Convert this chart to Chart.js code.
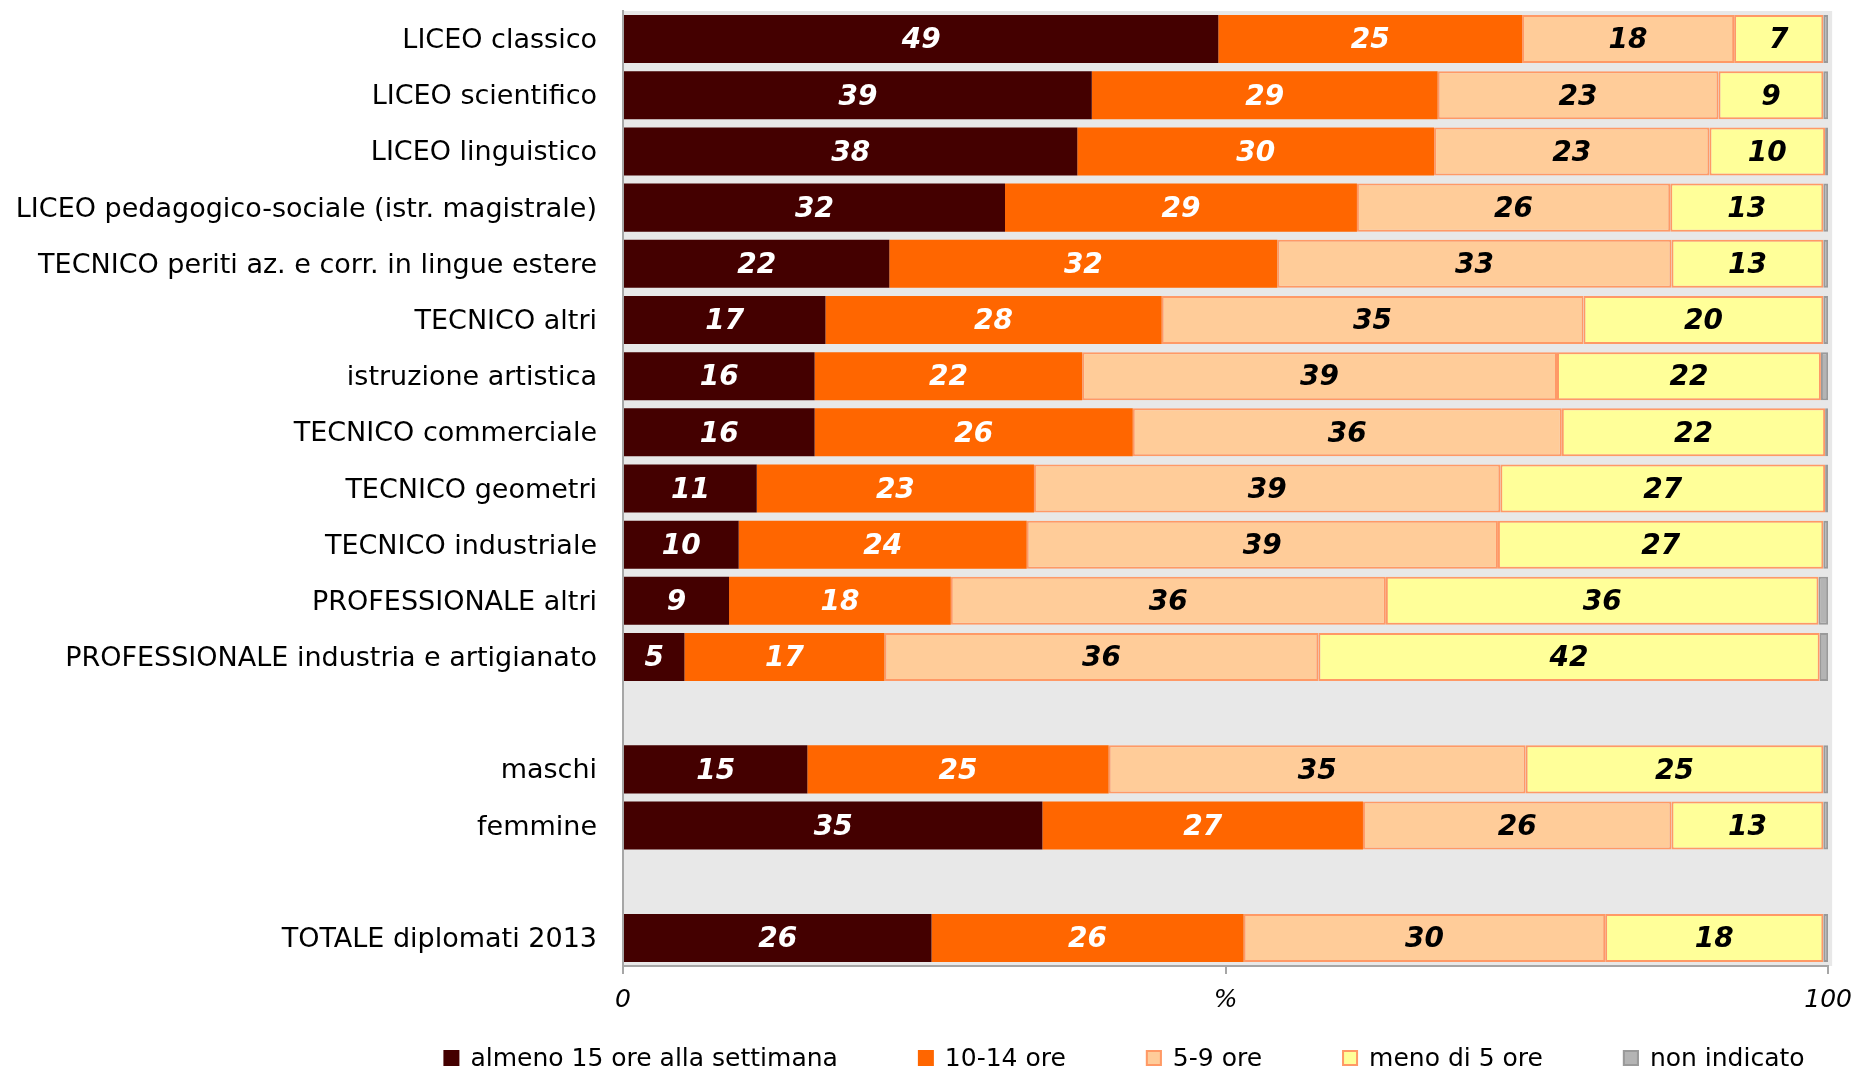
<!DOCTYPE html>
<html>
<head>
<meta charset="utf-8">
<script src="https://cdn.jsdelivr.net/npm/chart.js@4/dist/chart.umd.min.js"></script>
<style>
html,body{margin:0;padding:0;background:#ffffff;}
#wrap{width:1863px;height:1072px;position:relative;}
</style>
</head>
<body>
<div id="wrap"><canvas id="c" width="1863" height="1072"></canvas></div>
<script>
// ---- DATA ----
const categories = [
  'LICEO classico',
  'LICEO scientifico',
  'LICEO linguistico',
  'LICEO pedagogico-sociale (istr. magistrale)',
  'TECNICO periti az. e corr. in lingue estere',
  'TECNICO altri',
  'istruzione artistica',
  'TECNICO commerciale',
  'TECNICO geometri',
  'TECNICO industriale',
  'PROFESSIONALE altri',
  'PROFESSIONALE industria e artigianato',
  '',
  'maschi',
  'femmine',
  '',
  'TOTALE diplomati 2013'
];
const seriesNames = ['almeno 15 ore alla settimana', '10-14 ore', '5-9 ore', 'meno di 5 ore', 'non indicato'];
const almeno15   = [49.4, 38.9, 37.7, 31.7, 22.1, 16.8, 15.9, 15.9, 11.1,  9.6,  8.8,  5.1, null, 15.3, 34.8, null, 25.6];
const ore10_14   = [25.2, 28.7, 29.6, 29.2, 32.2, 27.9, 22.2, 26.4, 23.0, 23.9, 18.4, 16.6, null, 25.0, 26.6, null, 25.9];
const ore5_9     = [17.6, 23.3, 22.85, 26.0, 32.7, 35.0, 39.4, 35.6, 38.7, 39.1, 36.1, 36.0, null, 34.6, 25.6, null, 30.0];
const meno5      = [ 7.4,  8.7,  9.6, 12.7, 12.6, 19.9, 21.9, 21.85, 26.95, 27.0, 35.9, 41.6, null, 24.7, 12.6, null, 18.1];
const nonIndicato= [ 0.4,  0.4, 0.25,  0.4,  0.4,  0.4,  0.6, 0.25, 0.25,  0.4,  0.8,  0.7, null,  0.4,  0.4, null,  0.4];
const xTickLabels = {0: '0', 50: '%', 100: '100'};

// ---- STYLE ----
const FONT = '"DejaVu Sans", Verdana, sans-serif';
const fills   = ['#440000', '#FF6600', '#FFCC99', '#FFFF99', '#B4B4B4'];
const borders = ['#440000', '#FF6600', '#FF9966', '#FF9966', '#9A9A9A'];
const borderW = [0, 0, 2, 2, 2];
const labelColors = ['#FFFFFF', '#FFFFFF', '#000000', '#000000', null];
const seriesData = [almeno15, ore10_14, ore5_9, meno5, nonIndicato];

const plotBg = {
  id: 'plotBg',
  beforeDraw(chart) {
    const {ctx, chartArea: a} = chart;
    ctx.save();
    ctx.fillStyle = '#E8E8E8';
    ctx.fillRect(a.left, a.top, a.right - a.left + 4, a.bottom - a.top);
    ctx.restore();
  }
};

const valueLabels = {
  id: 'valueLabels',
  afterDatasetsDraw(chart) {
    const ctx = chart.ctx;
    ctx.save();
    ctx.font = 'italic bold 28px ' + FONT;
    ctx.textAlign = 'center';
    ctx.textBaseline = 'middle';
    chart.data.datasets.forEach((ds, di) => {
      const col = labelColors[di];
      if (!col) return;
      const meta = chart.getDatasetMeta(di);
      meta.data.forEach((el, i) => {
        const v = ds.data[i];
        if (v === null || v === undefined) return;
        ctx.fillStyle = col;
        ctx.fillText(String(Math.round(v)), (el.x + el.base) / 2, el.y + 2);
      });
    });
    ctx.restore();
  }
};

const bottomLegend = {
  id: 'bottomLegend',
  afterDraw(chart) {
    const ctx = chart.ctx;
    ctx.save();
    ctx.font = '25px ' + FONT;
    ctx.textBaseline = 'middle';
    ctx.textAlign = 'left';
    const box = 16, gapText = 11, gapItem = 80, centerX = 1124, y = 1058;
    const ds = chart.data.datasets;
    const widths = ds.map(d => box + gapText + ctx.measureText(d.label).width);
    const total = widths.reduce((a, b) => a + b, 0) + gapItem * (ds.length - 1);
    let x = centerX - total / 2;
    ds.forEach((d, i) => {
      ctx.fillStyle = fills[i];
      ctx.fillRect(x, y - box / 2, box, box);
      if (borderW[i]) {
        ctx.strokeStyle = borders[i];
        ctx.lineWidth = 2;
        ctx.strokeRect(x + 1, y - box / 2 + 1, box - 2, box - 2);
      }
      ctx.fillStyle = '#000000';
      ctx.fillText(d.label, x + box + gapText, y + 1);
      x += widths[i] + gapItem;
    });
    ctx.restore();
  }
};

new Chart(document.getElementById('c'), {
  type: 'bar',
  data: {
    labels: categories,
    datasets: seriesNames.map((name, i) => ({
      label: name,
      data: seriesData[i],
      backgroundColor: fills[i],
      borderColor: borders[i],
      borderWidth: borderW[i],
      borderSkipped: false,
      barPercentage: 0.855,
      categoryPercentage: 1.0
    }))
  },
  options: {
    indexAxis: 'y',
    responsive: false,
    animation: false,
    layout: {padding: {top: 11, right: 31, bottom: 46, left: 0}},
    plugins: {
      legend: {display: false},
      tooltip: {enabled: false},
      title: {display: false}
    },
    scales: {
      x: {
        stacked: true,
        min: 0,
        max: 100,
        ticks: {
          stepSize: 50,
          autoSkip: false,
          maxRotation: 0,
          padding: 11,
          color: '#000000',
          font: {family: FONT, size: 25, style: 'italic'},
          callback: (v) => xTickLabels[v] !== undefined ? xTickLabels[v] : ''
        },
        grid: {drawOnChartArea: false, drawTicks: true, tickLength: 8, color: '#A6A6A6', lineWidth: 2},
        border: {display: true, color: '#A6A6A6', width: 2},
        afterFit: (s) => { s.height = 60; }
      },
      y: {
        stacked: true,
        ticks: {
          autoSkip: false,
          padding: 26,
          labelOffset: 2,
          color: '#000000',
          font: {family: FONT, size: 27}
        },
        grid: {display: false, drawTicks: false},
        border: {display: true, color: '#A6A6A6', width: 2},
        afterFit: (s) => { s.width = 623; s.paddingTop = 0; s.paddingBottom = 0; }
      }
    }
  },
  plugins: [plotBg, valueLabels, bottomLegend]
});
</script>
</body>
</html>
